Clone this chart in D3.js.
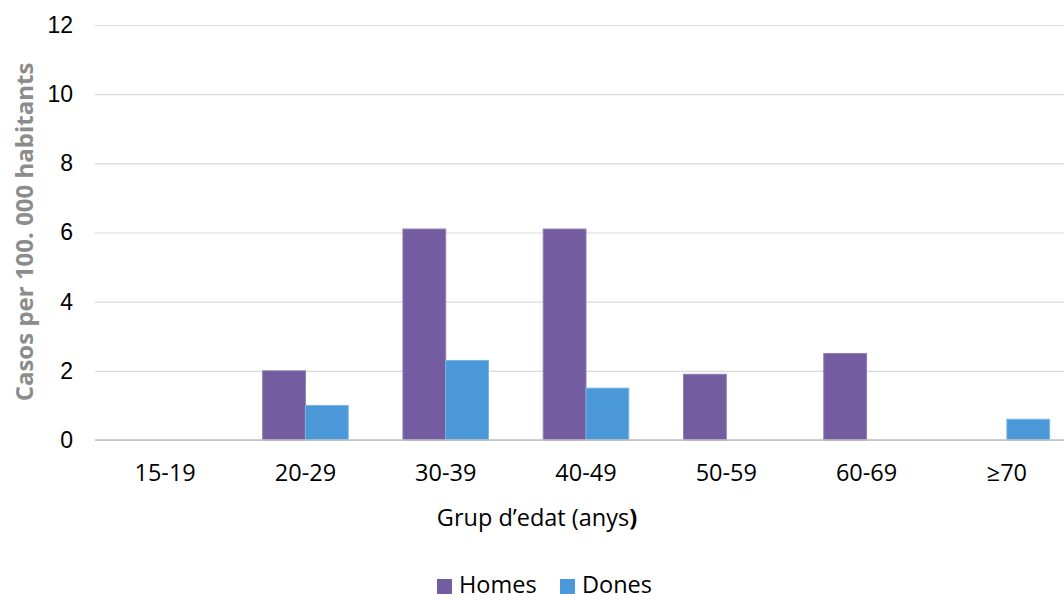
<!DOCTYPE html>
<html>
<head>
<meta charset="utf-8">
<script src="https://cdn.jsdelivr.net/npm/d3@7"></script>
<style>
  html, body { margin: 0; padding: 0; background: #ffffff; }
  svg { display: block; }
</style>
</head>
<body>
<svg id="chart" width="1064" height="599"></svg>
<script>
const categories = ["15-19", "20-29", "30-39", "40-49", "50-59", "60-69", "≥70"];
const seriesNames = ["Homes", "Dones"];
const homes = [0, 2.0, 6.1, 6.1, 1.9, 2.5, 0];
const dones = [0, 1.0, 2.3, 1.5, 0, 0, 0.6];
const yTicks = [0, 2, 4, 6, 8, 10, 12];
const colors = ["#735c9f", "#4a98d8"];

const svg = d3.select("#chart");
const margin = { left: 95, right: -13, top: 25, bottom: 159 };
const W = 1064, H = 599;
const x0 = d3.scaleBand().domain(categories).range([margin.left, W - margin.right]).padding(0);
const innerPad = x0.bandwidth() * 0.195;
const x1 = d3.scaleBand().domain(seriesNames).range([innerPad, x0.bandwidth() - innerPad]).padding(0);
const y = d3.scaleLinear().domain([0, 12]).range([H - margin.bottom, margin.top]);

// gridlines
const yAxis = d3.axisLeft(y).tickValues(yTicks).tickSize(-(W - margin.left)).tickPadding(22);
const gy = svg.append("g").attr("transform", `translate(${margin.left},0)`).call(yAxis);
gy.select(".domain").remove();
gy.selectAll(".tick line").attr("stroke", "#d9d9d9").attr("stroke-width", 1.2);
gy.selectAll(".tick text")
  .attr("font-family", "'Liberation Sans', Arial, sans-serif")
  .attr("font-size", 23).attr("fill", "#000");

const data = categories.map((c, i) => ({ cat: c, vals: [{ k: "Homes", v: homes[i] }, { k: "Dones", v: dones[i] }] }));

const groups = svg.append("g").selectAll("g").data(data).join("g")
  .attr("transform", d => `translate(${x0(d.cat)},0)`);
groups.selectAll("rect").data(d => d.vals.filter(e => e.v > 0)).join("rect")
  .attr("x", d => x1(d.k))
  .attr("y", d => y(d.v))
  .attr("width", x1.bandwidth())
  .attr("height", d => y(0) - y(d.v))
  .attr("fill", d => colors[seriesNames.indexOf(d.k)])
  .attr("stroke", d => d.k === "Homes" ? "#8f7db5" : "#79b5e6")
  .attr("stroke-width", 1);

// baseline
svg.append("line").attr("x1", margin.left).attr("x2", W).attr("y1", y(0)).attr("y2", y(0))
  .attr("stroke", "#bfbfbf").attr("stroke-width", 1.5);

// x axis labels
const xAxis = d3.axisBottom(x0).tickSize(0).tickPadding(24);
const gx = svg.append("g").attr("transform", `translate(0,${y(0)})`).call(xAxis);
gx.select(".domain").remove();
gx.selectAll(".tick text")
  .attr("font-family", "'Open Sans', sans-serif")
  .attr("font-size", 23.5).attr("fill", "#000");

// x title
const xt = svg.append("text").attr("x", 537).attr("y", 526).attr("text-anchor", "middle")
  .attr("font-family", "'Open Sans', sans-serif").attr("font-size", 23.5).attr("fill", "#000");
xt.append("tspan").text("Grup d’edat (anys");
xt.append("tspan").attr("font-weight", "bold").text(")");

// y title
svg.append("text")
  .attr("transform", "translate(33,232) rotate(-90)")
  .attr("text-anchor", "middle")
  .attr("font-family", "'Open Sans', sans-serif").attr("font-weight", "bold")
  .attr("font-size", 24).attr("fill", "#8c8c8c")
  .text("Casos per 100. 000 habitants");

// legend
const legend = svg.append("g");
const legendX = [437, 560];
seriesNames.forEach((s, i) => {
  legend.append("rect").attr("x", legendX[i]).attr("y", 579).attr("width", 15).attr("height", 15)
    .attr("fill", colors[i]);
  legend.append("text").attr("x", legendX[i] + 22).attr("y", 593)
    .attr("font-family", "'Open Sans', sans-serif").attr("font-size", 23.5).attr("fill", "#000")
    .text(s);
});
</script>
</body>
</html>
